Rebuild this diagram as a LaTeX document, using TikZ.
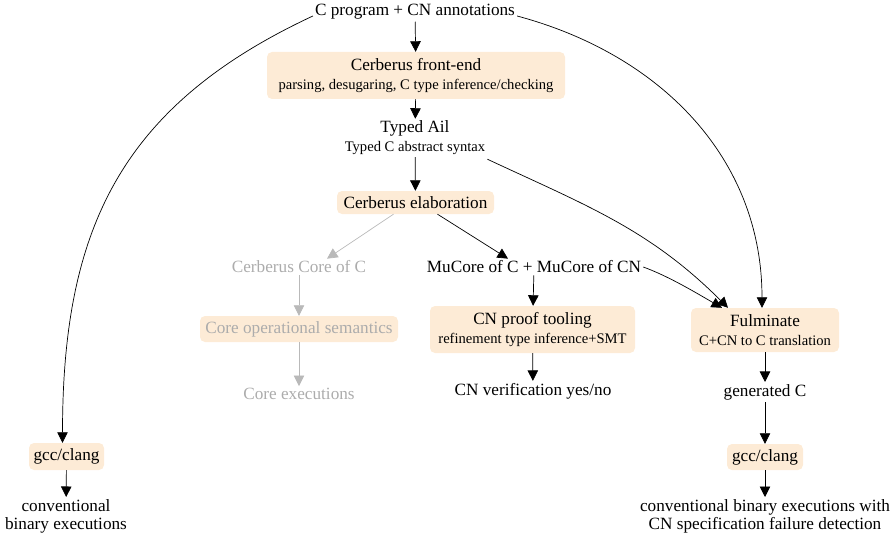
\documentclass[tikz,border=0pt]{standalone}
\usepackage{fontspec}
\setmainfont{Liberation Serif}
\usetikzlibrary{arrows.meta}
\definecolor{peach}{RGB}{253,235,214}
\definecolor{lgray}{RGB}{172,172,172}
\definecolor{lgrayline}{RGB}{185,185,185}
\newcommand{\bigfnt}{\fontsize{17.2}{21}\selectfont}
\newcommand{\smlfnt}{\fontsize{14.6}{21}\selectfont}
\begin{document}
\begin{tikzpicture}[x=1pt,y=-1pt,
  txt/.style={inner sep=2pt,align=center,font=\bigfnt},
  boxnode/.style={txt,fill=peach,rounded corners=5pt},
  arr/.style={-{Triangle[length=10.5pt,width=10.5pt]},line width=0.7pt},
  grayarr/.style={-{Triangle[length=10.5pt,width=10.5pt]},line width=0.7pt,draw=lgrayline},
  curve/.style={-{Triangle[length=10.5pt,width=10.5pt]},line width=0.7pt}]
\useasboundingbox (0,0) rectangle (892,543);
\node[txt] (top) at (415,12) {C program + CN annotations};
\node[boxnode,minimum width=298pt,minimum height=47pt] (fe) at (416,75.5)
  {Cerberus front-end\\[-2pt]{\smlfnt parsing, desugaring, C type inference/checking}};
\node[txt] (ail) at (415,138) {Typed Ail\\[-2pt]{\smlfnt Typed C abstract syntax}};
\node[boxnode,minimum width=157pt,minimum height=23pt,inner sep=0pt] (elab) at (415.5,202.5) {Cerberus elaboration};
\node[txt,text=lgray] (corec) at (299,267) {Cerberus Core of C};
\node[txt] (mucore) at (534,267) {MuCore of C + MuCore of CN};
\node[boxnode,text=lgray,minimum width=198pt,minimum height=26pt,inner sep=0pt] (coresem) at (299,329) {Core operational semantics};
\node[txt,text=lgray] (coreexec) at (299,394) {Core executions};
\node[boxnode,minimum width=205pt,minimum height=47pt,inner sep=0pt] (proof) at (532.5,329.5)
  {CN proof tooling\\[-2pt]{\smlfnt refinement type inference+SMT}};
\node[txt] (verif) at (533,391) {CN verification yes/no};
\node[boxnode,minimum width=148pt,minimum height=44pt,inner sep=0pt] (fulm) at (765,330)
  {Fulminate\\[-2pt]{\smlfnt C+CN to C translation}};
\node[txt] (genc) at (765,392) {generated C};
\node[boxnode,minimum width=76pt,minimum height=26pt,inner sep=0pt] (gccr) at (765,457) {gcc/clang};
\node[txt] (convr) at (765,516) {conventional binary executions with\\[-3pt]CN specification failure detection};
\node[boxnode,minimum width=75pt,minimum height=27pt,inner sep=0pt] (gccl) at (66.5,456.5) {gcc/clang};
\node[txt] (convl) at (66,516) {conventional\\[-3pt]binary executions};
% straight arrows
\draw[arr] (top) -- (fe);
\draw[arr] (fe) -- (ail);
\draw[arr] (ail) -- (elab);
\draw[grayarr] ([xshift=-22pt]elab.south) -- ([xshift=28pt]corec.north);
\draw[arr] ([xshift=22pt]elab.south) -- ([xshift=-26pt]mucore.north);
\draw[grayarr] (corec) -- (coresem);
\draw[grayarr] (coresem) -- (coreexec);
\draw[arr] (mucore) -- (proof);
\draw[arr] (proof) -- (verif);
\draw[arr] (fulm) -- (genc);
\draw[arr] (genc) -- (gccr);
\draw[arr] (gccr) -- (convr);
\draw[arr] (gccl) -- (convl);
% curves
\draw[curve] ([yshift=-4pt]top.west) to[out=205,in=90,looseness=1.1] ([xshift=-4pt]gccl.north);
\draw[curve] ([yshift=-4pt]top.east) to[out=-15,in=90] ([xshift=-3pt]fulm.north);
\draw[curve] ([yshift=-2pt]ail.south east) to[out=-25,in=135] ([xshift=-37pt]fulm.north);
\draw[curve] (mucore.east) to[out=-20,in=150,looseness=0.8] ([xshift=-43pt]fulm.north);
\end{tikzpicture}
\end{document}
